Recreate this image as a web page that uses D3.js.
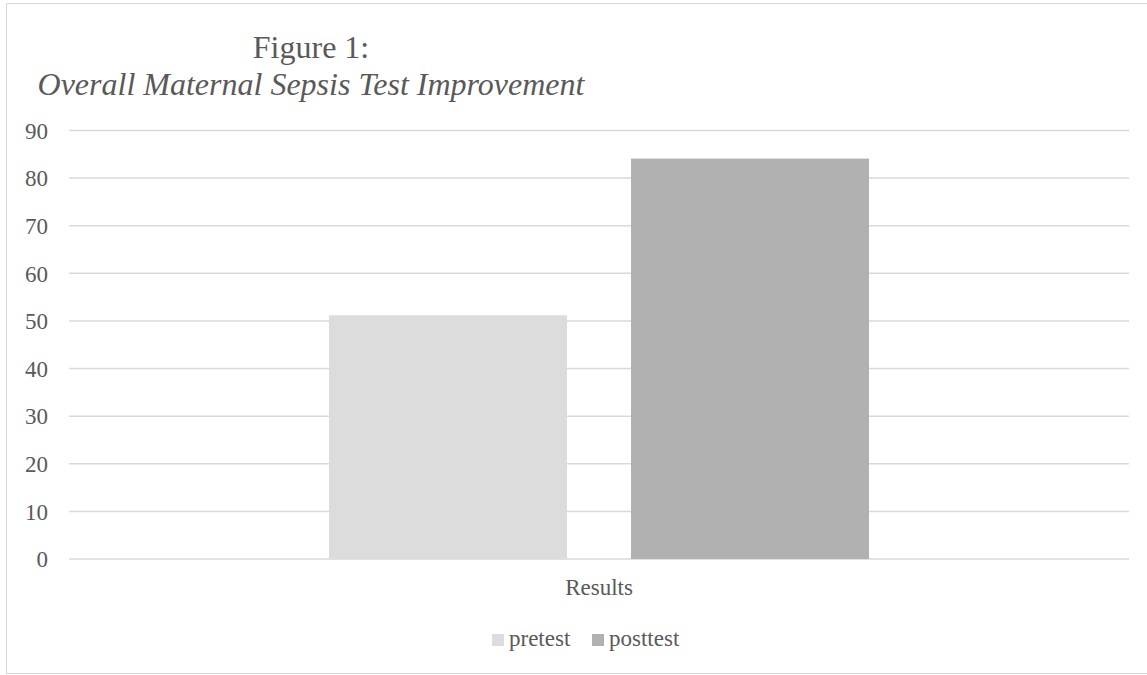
<!DOCTYPE html>
<html>
<head>
<meta charset="utf-8">
<script src="https://cdn.jsdelivr.net/npm/d3@7"></script>
<style>
  html, body { margin: 0; padding: 0; background: #fff; }
  svg { display: block; }
  text { font-family: "Liberation Serif", "Times New Roman", serif; fill: #595959; }
</style>
</head>
<body>
<svg id="chart" width="1147" height="675"></svg>
<script>
// Chart data
const categories = ["Results"];
const seriesNames = ["pretest", "posttest"];
const pretestValues = [51.2];
const posttestValues = [84.1];
const yTicks = [0, 10, 20, 30, 40, 50, 60, 70, 80, 90];
const seriesColors = ["#dcdcdc", "#b1b1b1"];

const seriesValues = [pretestValues, posttestValues];

const svg = d3.select("#chart");
const W = 1147, H = 675;
const labelSize = 23;

// Outer frame
svg.append("rect")
  .attr("x", 6.5).attr("y", 3.5)
  .attr("width", W + 10).attr("height", 670)
  .attr("fill", "#fff").attr("stroke", "#d9d9d9").attr("stroke-width", 1);

const plot = { left: 69, right: 1129, top: 130.5, bottom: 559 };

const y = d3.scaleLinear().domain([0, 90]).range([plot.bottom, plot.top]);

const x0 = d3.scaleBand()
  .domain(categories)
  .range([plot.left, plot.right])
  .paddingInner(0)
  .paddingOuter(0.4815);

const x1 = d3.scaleBand()
  .domain(seriesNames)
  .range([0, x0.bandwidth()])
  .paddingInner(0.212)
  .paddingOuter(0);

// Gridlines
svg.append("g")
  .selectAll("line")
  .data(yTicks)
  .join("line")
  .attr("x1", plot.left).attr("x2", plot.right)
  .attr("y1", d => y(d)).attr("y2", d => y(d))
  .attr("stroke", "#d9d9d9").attr("stroke-width", 1.5);

// Y axis labels
const yAxis = d3.axisLeft(y).tickValues(yTicks).tickSize(0).tickPadding(0);
const yg = svg.append("g")
  .attr("transform", `translate(48,0)`)
  .call(yAxis);
yg.select(".domain").remove();
yg.selectAll("text")
  .attr("font-family", "Liberation Serif, serif")
  .attr("font-size", labelSize)
  .attr("fill", "#595959")
  .attr("dy", "0.34em");

// Bars
const groups = svg.append("g")
  .selectAll("g")
  .data(categories)
  .join("g")
  .attr("transform", d => `translate(${x0(d)},0)`);

groups.selectAll("rect")
  .data((d, i) => seriesNames.map((s, j) => ({ s, v: seriesValues[j][i], c: seriesColors[j] })))
  .join("rect")
  .attr("x", d => x1(d.s))
  .attr("y", d => y(d.v))
  .attr("width", x1.bandwidth())
  .attr("height", d => y(0) - y(d.v))
  .attr("fill", d => d.c);

// Category axis
const xAxis = d3.axisBottom(x0).tickSize(0).tickPadding(0);
const xg = svg.append("g")
  .attr("transform", `translate(0,${plot.bottom})`)
  .call(xAxis);
xg.select(".domain").remove();
xg.selectAll("text")
  .attr("font-family", "Liberation Serif, serif")
  .attr("font-size", labelSize)
  .attr("fill", "#595959")
  .attr("y", 36)
  .attr("dy", 0);

// Title (two centred lines)
const titleX = 311;
svg.append("text")
  .attr("x", titleX).attr("y", 58)
  .attr("text-anchor", "middle")
  .attr("font-size", 32)
  .text("Figure 1:");
svg.append("text")
  .attr("x", titleX).attr("y", 95)
  .attr("text-anchor", "middle")
  .attr("font-size", 32)
  .attr("font-style", "italic")
  .text("Overall Maternal Sepsis Test Improvement");

// Legend
const legendItems = [
  { name: seriesNames[0], color: seriesColors[0], x: 492 },
  { name: seriesNames[1], color: seriesColors[1], x: 592 }
];
const lg = svg.append("g");
lg.selectAll("rect")
  .data(legendItems)
  .join("rect")
  .attr("x", d => d.x).attr("y", 634)
  .attr("width", 12).attr("height", 12)
  .attr("fill", d => d.color);
lg.selectAll("text")
  .data(legendItems)
  .join("text")
  .attr("x", d => d.x + 17).attr("y", 646)
  .attr("font-size", labelSize)
  .text(d => d.name);
</script>
</body>
</html>
